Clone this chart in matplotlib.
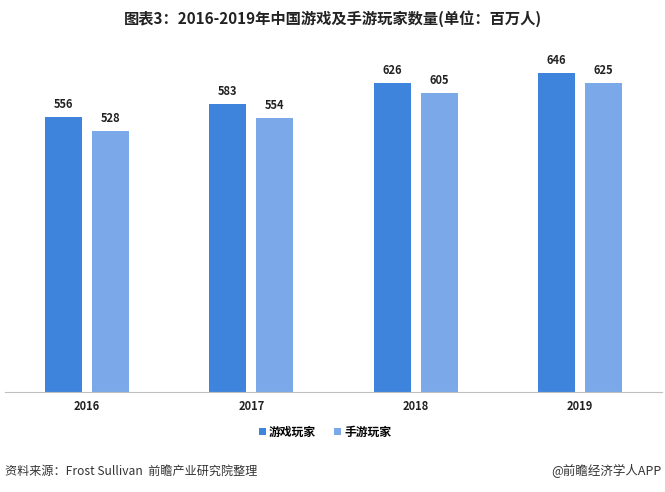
import numpy as np
import matplotlib
matplotlib.use("Agg")
from matplotlib import pyplot as plt

plt.rcParams['font.family'] = ['Noto Sans CJK SC', 'DejaVu Sans']

years = ["2016", "2017", "2018", "2019"]
game_players = [556, 583, 626, 646]
mobile_players = [528, 554, 605, 625]
series_names = ["游戏玩家", "手游玩家"]

dark_blue = "#3f84dc"
light_blue = "#7aa8e8"

fig = plt.figure(figsize=(6.65, 4.92), dpi=100)
ax = fig.add_axes([5 / 665, 100 / 492, 657 / 665, 346 / 492])

x = np.arange(len(years))
w = 0.226
off = 0.143
b1 = ax.bar(x - off, game_players, w, color=dark_blue, label=series_names[0])
b2 = ax.bar(x + off, mobile_players, w, color=light_blue, label=series_names[1])

for bars in (b1, b2):
    for r in bars:
        ax.text(r.get_x() + r.get_width() / 2, r.get_height() + 12, str(int(r.get_height())),
                ha="center", va="bottom", fontsize=8, fontweight="bold", color="#222222")

ax.set_xlim(-0.5, 3.5)
ax.set_ylim(0, 700)
ax.set_xticks(x)
ax.set_xticklabels(years, fontsize=8, fontweight="bold", color="#222222")
ax.tick_params(axis="x", length=0, pad=6)
ax.set_yticks([])
for s in ["top", "right", "left"]:
    ax.spines[s].set_visible(False)
ax.spines["bottom"].set_color("#bfbfbf")
ax.spines["bottom"].set_linewidth(0.8)

leg = fig.legend(handles=[b1, b2], labels=series_names, loc="center", bbox_to_anchor=(325 / 665, 1 - 432 / 492),
                 ncol=2, frameon=False, handlelength=0.6, handleheight=0.6, handletextpad=0.3,
                 columnspacing=1.5, prop={"weight": "bold", "size": 8.5})

fig.text(333 / 665, 1 - 19 / 492, "图表3：2016-2019年中国游戏及手游玩家数量(单位：百万人)",
         ha="center", va="center", fontsize=11, fontweight="bold", color="#222222")
fig.text(5 / 665, 1 - 471 / 492, "资料来源：Frost Sullivan  前瞻产业研究院整理",
         ha="left", va="center", fontsize=8.7, color="#333333")
fig.text(662 / 665, 1 - 471 / 492, "@前瞻经济学人APP",
         ha="right", va="center", fontsize=9, color="#333333")

fig.savefig("out.png", dpi=100)
